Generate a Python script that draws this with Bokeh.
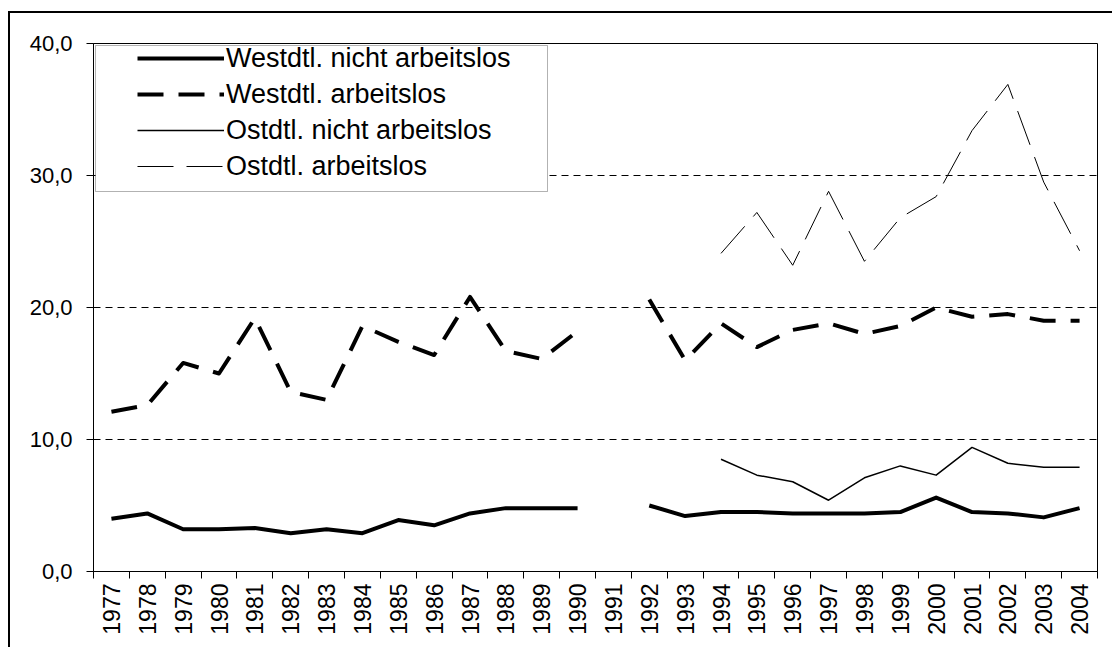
import math
from bokeh.plotting import figure
from bokeh.models import (FixedTicker, Legend, LegendItem, BoxAnnotation, Range1d)
from bokeh.embed import file_html
from bokeh.resources import INLINE

nan = float("nan")

years = ["1977", "1978", "1979", "1980", "1981", "1982", "1983", "1984", "1985",
         "1986", "1987", "1988", "1989", "1990", "1991", "1992", "1993", "1994",
         "1995", "1996", "1997", "1998", "1999", "2000", "2001", "2002", "2003", "2004"]

west_nicht = [4.0, 4.4, 3.2, 3.2, 3.3, 2.9, 3.2, 2.9, 3.9, 3.5, 4.4, 4.8, 4.8, 4.8,
              nan, 5.0, 4.2, 4.5, 4.5, 4.4, 4.4, 4.4, 4.5, 5.6, 4.5, 4.4, 4.1, 4.8]
west_arb = [12.1, 12.6, 15.8, 15.0, 19.2, 13.6, 13.0, 18.6, 17.4, 16.4, 20.8, 16.7, 16.1, 18.2,
            nan, 20.6, 16.0, 18.8, 17.0, 18.3, 18.8, 18.0, 18.6, 20.0, 19.3, 19.5, 19.0, 19.0]

east_years = ["1994", "1995", "1996", "1997", "1998", "1999", "2000", "2001", "2002", "2003", "2004"]
east_nicht = [8.5, 7.3, 6.8, 5.4, 7.1, 8.0, 7.3, 9.4, 8.2, 7.9, 7.9]
east_arb = [24.1, 27.2, 23.2, 28.8, 23.5, 26.8, 28.4, 33.4, 36.9, 29.5, 24.3]

series_labels = ["Westdtl. nicht arbeitslos", "Westdtl. arbeitslos",
                 "Ostdtl. nicht arbeitslos", "Ostdtl. arbeitslos"]

y_ticks = [0, 10, 20, 30, 40]
y_tick_labels = ["0,0", "10,0", "20,0", "30,0", "40,0"]

x_all = list(range(len(years)))
x_east = [years.index(y) for y in east_years]

FONT = "Liberation Sans"

p = figure(width=1104, height=636, output_backend="svg", toolbar_location=None,
           x_range=Range1d(-0.5, len(years) - 0.5), y_range=Range1d(0, 40),
           min_border_left=83, min_border_right=17, min_border_top=30, min_border_bottom=78,
           title=None)
# outer chart frame (left and top edges visible in the reference)
p.styles = {"border-left": "2px solid black", "border-top": "2px solid black"}
p.margin = (11, 0, 0, 8)

p.outline_line_color = "black"
p.outline_line_width = 1
p.background_fill_color = "white"
p.border_fill_color = "white"

r1 = p.line(x_all, west_nicht, line_color="black", line_width=4, line_join="round")
r2 = p.line(x_all, west_arb, line_color="black", line_width=4, line_dash="26 15",
            line_join="round")
r3 = p.line(x_east, east_nicht, line_color="black", line_width=1.5, line_join="round")
r4 = p.line(x_east, east_arb, line_color="black", line_width=1, line_dash="36 13",
            line_join="round")

# legend box
legbox = BoxAnnotation(left=83, right=535, top=30, bottom=176,
                       left_units="canvas", right_units="canvas",
                       top_units="canvas", bottom_units="canvas",
                       fill_color="white", fill_alpha=1, line_color="black", line_width=1)
p.add_layout(legbox)

legend = Legend(items=[LegendItem(label=series_labels[0], renderers=[r1]),
                       LegendItem(label=series_labels[1], renderers=[r2]),
                       LegendItem(label=series_labels[2], renderers=[r3]),
                       LegendItem(label=series_labels[3], renderers=[r4])],
                location=(44, 387), padding=0, spacing=0, margin=0,
                label_height=36, glyph_height=36, glyph_width=87, label_standoff=2,
                border_line_alpha=0, background_fill_alpha=0,
                label_text_font=FONT, label_text_font_size="27px",
                label_text_color="black")
p.add_layout(legend)

# y axis
p.yaxis.ticker = FixedTicker(ticks=y_ticks, minor_ticks=[])
p.yaxis.major_label_overrides = dict(zip(y_ticks, y_tick_labels))
p.yaxis.major_tick_out = 7
p.yaxis.major_tick_in = 0
p.yaxis.minor_tick_out = 0
p.yaxis.minor_tick_in = 0
p.yaxis.major_label_text_font = FONT
p.yaxis.major_label_text_font_size = "22px"
p.yaxis.major_label_text_color = "black"
p.yaxis.major_label_standoff = 14
p.yaxis.axis_line_color = "black"
p.yaxis.major_tick_line_color = "black"

p.ygrid.grid_line_color = "black"
p.ygrid.grid_line_dash = "7 5"
p.ygrid.grid_line_width = 1
p.xgrid.visible = False

# x axis
p.xaxis.ticker = FixedTicker(ticks=x_all,
                             minor_ticks=[i - 0.5 for i in range(len(years) + 1)])
p.xaxis.major_label_overrides = {i: y for i, y in enumerate(years)}
p.xaxis.major_label_orientation = math.pi / 2
p.xaxis.major_tick_out = 0
p.xaxis.major_tick_in = 0
p.xaxis.minor_tick_out = 7
p.xaxis.minor_tick_in = 0
p.xaxis.minor_tick_line_color = "black"
p.xaxis.major_label_standoff = 5
p.xaxis.major_label_text_font = FONT
p.xaxis.major_label_text_font_size = "23px"
p.xaxis.major_label_text_color = "black"
p.xaxis.axis_line_color = "black"

open("out.html", "w").write(file_html(p, INLINE))
